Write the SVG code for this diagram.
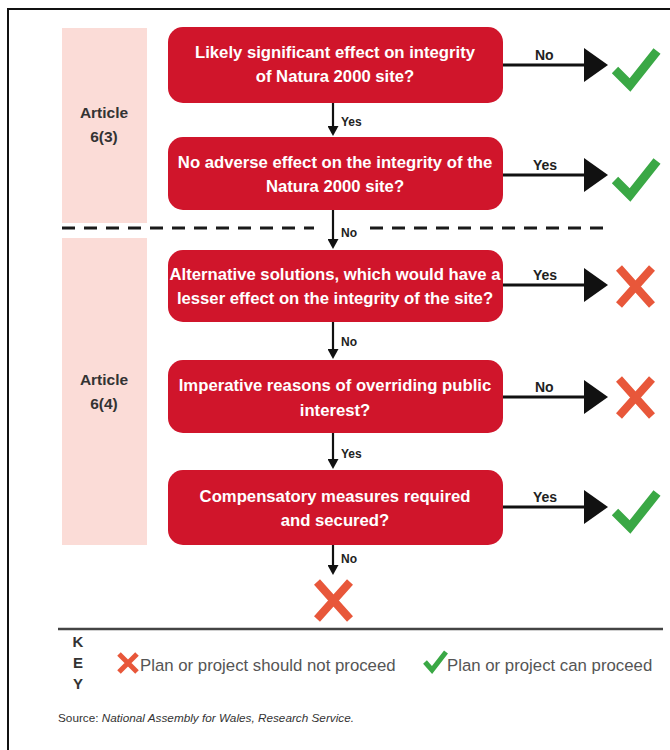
<svg xmlns="http://www.w3.org/2000/svg" width="670" height="750" viewBox="0 0 670 750">
<style>
.frame{stroke:#111;stroke-width:2;fill:none}
.band{fill:#fbdcd7}
.art{font-family:"Liberation Sans",Arial,sans-serif;font-weight:bold;font-size:15.5px;fill:#333;text-anchor:middle}
.box{fill:#d0152b}
.bt{font-family:"Liberation Sans",Arial,sans-serif;font-weight:bold;font-size:16.7px;fill:#fff;text-anchor:middle}
.conn{stroke:#111;fill:none}
.h{stroke-width:3}
.v{stroke-width:2.2}
.lbl{font-family:"Liberation Sans",Arial,sans-serif;font-weight:bold;font-size:14px;fill:#222}
.vl{font-family:"Liberation Sans",Arial,sans-serif;font-weight:bold;font-size:12px;fill:#222}
.ok{stroke:#3aa845;stroke-width:9;fill:none;stroke-linejoin:miter}
.no{stroke:#e8573a;stroke-width:8;fill:none}
.dash{stroke:#1a1a1a;stroke-width:3;stroke-dasharray:13 9}
.key{font-family:"Liberation Sans",Arial,sans-serif;font-size:16.8px;fill:#555}
.keyl{font-family:"Liberation Sans",Arial,sans-serif;font-weight:bold;font-size:15px;fill:#333;text-anchor:middle}
.src{font-family:"Liberation Sans",Arial,sans-serif;font-size:11px;fill:#333}
</style>
<defs>
<marker id="bigHead" markerUnits="userSpaceOnUse" markerWidth="25" markerHeight="34" refX="0" refY="17" orient="auto">
<path d="M0,0 L24,17 L0,34 Z" fill="#111"/>
</marker>
<marker id="smallHead" markerUnits="userSpaceOnUse" markerWidth="10" markerHeight="11" refX="0" refY="5.5" orient="auto">
<path d="M0,0 L10,5.5 L0,11 Z" fill="#111"/>
</marker>
<path id="tick" d="M-2,0 L13,15 L40,-19"/>
<path id="cross" d="M0,0 L33,37 M33,0 L0,37"/>
</defs>
<rect width="670" height="750" fill="#fff"/>
<path class="frame" d="M8,750 L8,9 L670,9"/>

<g id="band-6-3">
<rect class="band" x="62" y="28" width="85" height="195"/>
<text class="art" x="104" y="118">Article</text>
<text class="art" x="104" y="142">6(3)</text>
</g>
<g id="band-6-4">
<rect class="band" x="62" y="238" width="85" height="307"/>
<text class="art" x="104" y="385">Article</text>
<text class="art" x="104" y="409">6(4)</text>
</g>

<g id="divider">
<line class="dash" x1="62" y1="228" x2="314" y2="228"/>
<line class="dash" x1="370" y1="228" x2="605" y2="228"/>
</g>

<g id="q1">
<rect class="box" x="168" y="27" width="335" height="76" rx="15"/>
<text class="bt" x="335" y="58">Likely significant effect on integrity</text>
<text class="bt" x="335" y="82">of Natura 2000 site?</text>
</g>
<g id="q2">
<rect class="box" x="168" y="137" width="335" height="73" rx="15"/>
<text class="bt" x="335" y="168">No adverse effect on the integrity of the</text>
<text class="bt" x="335" y="192">Natura 2000 site?</text>
</g>
<g id="q3">
<rect class="box" x="168" y="250" width="335" height="72" rx="15"/>
<text class="bt" x="335" y="280">Alternative solutions, which would have a</text>
<text class="bt" x="335" y="304">lesser effect on the integrity of the site?</text>
</g>
<g id="q4">
<rect class="box" x="168" y="360" width="335" height="73" rx="15"/>
<text class="bt" x="335" y="391">Imperative reasons of overriding public</text>
<text class="bt" x="335" y="416">interest?</text>
</g>
<g id="q5">
<rect class="box" x="168" y="470" width="335" height="75" rx="15"/>
<text class="bt" x="335" y="502">Compensatory measures required</text>
<text class="bt" x="335" y="526">and secured?</text>
</g>

<g id="connectors">
<line class="conn h" x1="503" y1="65" x2="584" y2="65" marker-end="url(#bigHead)"/>
<text class="lbl" x="535" y="60">No</text>
<line class="conn h" x1="503" y1="175" x2="584" y2="175" marker-end="url(#bigHead)"/>
<text class="lbl" x="533" y="170">Yes</text>
<line class="conn h" x1="503" y1="285" x2="584" y2="285" marker-end="url(#bigHead)"/>
<text class="lbl" x="533" y="280">Yes</text>
<line class="conn h" x1="503" y1="397" x2="584" y2="397" marker-end="url(#bigHead)"/>
<text class="lbl" x="535" y="392">No</text>
<line class="conn h" x1="503" y1="507" x2="584" y2="507" marker-end="url(#bigHead)"/>
<text class="lbl" x="533" y="502">Yes</text>

<line class="conn v" x1="333" y1="103" x2="333" y2="126" marker-end="url(#smallHead)"/>
<text class="vl" x="341" y="126">Yes</text>
<line class="conn v" x1="333" y1="210" x2="333" y2="239" marker-end="url(#smallHead)"/>
<text class="vl" x="341" y="237">No</text>
<line class="conn v" x1="333" y1="322" x2="333" y2="349" marker-end="url(#smallHead)"/>
<text class="vl" x="341" y="346">No</text>
<line class="conn v" x1="333" y1="433" x2="333" y2="459" marker-end="url(#smallHead)"/>
<text class="vl" x="341" y="458">Yes</text>
<line class="conn v" x1="333" y1="545" x2="333" y2="565" marker-end="url(#smallHead)"/>
<text class="vl" x="341" y="563">No</text>
</g>

<g id="outcome-1"><use href="#tick" class="ok" x="617" y="70"/></g>
<g id="outcome-2"><use href="#tick" class="ok" x="617" y="180"/></g>
<g id="outcome-3"><use href="#cross" class="no" x="619" y="268"/></g>
<g id="outcome-4"><use href="#cross" class="no" x="619" y="379"/></g>
<g id="outcome-5"><use href="#tick" class="ok" x="617" y="512"/></g>
<g id="outcome-6"><use href="#cross" class="no" x="317" y="582"/></g>

<g id="key">
<line x1="58" y1="629" x2="663" y2="629" stroke="#444" stroke-width="2.5"/>
<text class="keyl" x="78" y="647">K</text>
<text class="keyl" x="78" y="668">E</text>
<text class="keyl" x="78" y="689">Y</text>
<path d="M119,654 L137,672 M137,654 L119,672" stroke="#e8573a" stroke-width="5" fill="none"/>
<text class="key" x="140" y="671">Plan or project should not proceed</text>
<path d="M425,662 L432,670 L446,652" stroke="#3aa845" stroke-width="5" fill="none"/>
<text class="key" x="447" y="671">Plan or project can proceed</text>
</g>

<text class="src" x="58" y="722" textLength="296" lengthAdjust="spacingAndGlyphs">Source: <tspan font-style="italic">National Assembly for Wales, Research Service.</tspan></text>
</svg>
